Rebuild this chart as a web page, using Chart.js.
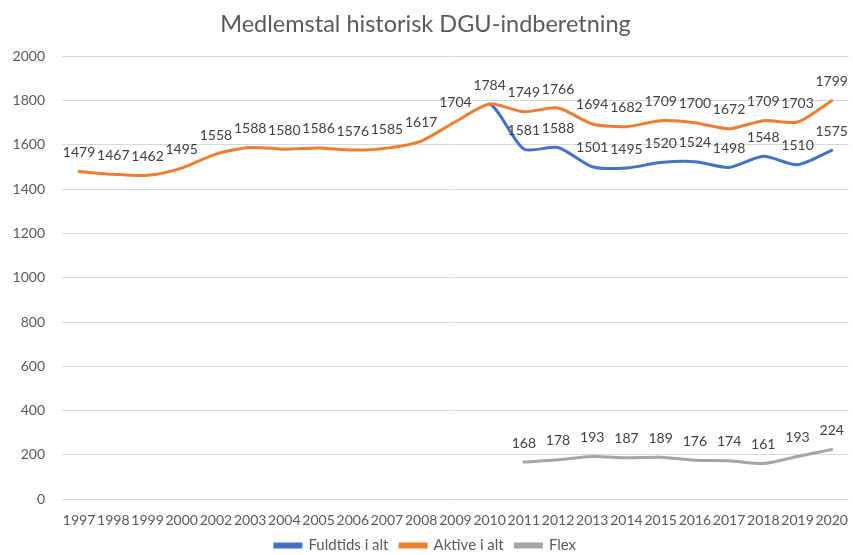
<!DOCTYPE html>
<html>
<head>
<meta charset="utf-8">
<script src="https://cdn.jsdelivr.net/npm/chart.js@4"></script>
<style>
    html, body { margin: 0; padding: 0; background: #fff; }
    #wrap { width: 853px; height: 555px; }
</style>
</head>
<body>
<div id="wrap"><canvas id="myChart" width="853" height="555"></canvas></div>
<script>
const years = ["1997", "1998", "1999", "2000", "2002", "2003", "2004", "2005", "2006", "2007", "2008",
    "2009", "2010", "2011", "2012", "2013", "2014", "2015", "2016", "2017", "2018", "2019", "2020"];

const fuldtids = [1479, 1467, 1462, 1495, 1558, 1588, 1580, 1586, 1576, 1585, 1617,
    1704, 1784, 1581, 1588, 1501, 1495, 1520, 1524, 1498, 1548, 1510, 1575];

const aktive = [1479, 1467, 1462, 1495, 1558, 1588, 1580, 1586, 1576, 1585, 1617,
    1704, 1784, 1749, 1766, 1694, 1682, 1709, 1700, 1672, 1709, 1703, 1799];

const flex = [null, null, null, null, null, null, null, null, null, null, null,
    null, null, 168, 178, 193, 187, 189, 176, 174, 161, 193, 224];

const yTicks = [0, 200, 400, 600, 800, 1000, 1200, 1400, 1600, 1800, 2000];

const fontFamily = "Lato, 'Open Sans', sans-serif";

// blue only shows where it leaves the orange line
const sameAsAktive = (i) => aktive[i] === fuldtids[i];

// draws the value above every point (blue is skipped where it sits under orange)
const valueLabels = {
    id: "valueLabels",
    afterDatasetsDraw: (chart) => {
        const ctx = chart.ctx;
        ctx.save();
        ctx.font = "14px " + fontFamily;
        ctx.fillStyle = "#404040";
        ctx.textAlign = "center";
        ctx.textBaseline = "middle";
        chart.data.datasets.forEach((ds, d) => {
            const meta = chart.getDatasetMeta(d);
            meta.data.forEach((pt, i) => {
                const v = ds.data[i];
                if (v === null) return;
                if (ds.label === "Fuldtids i alt" && sameAsAktive(i)) return;
                ctx.fillText(String(v), pt.x, pt.y - 19);
            });
        });
        ctx.restore();
    }
};

new Chart("myChart", {
    type: "line",
    data: {
        labels: years,
        datasets: [{
            label: "Fuldtids i alt",
            data: fuldtids,
            borderColor: "#4472C4",
            backgroundColor: "#4472C4",
            order: 2,
            segment: {
                borderColor: (c) => (sameAsAktive(c.p0DataIndex) && sameAsAktive(c.p1DataIndex)) ? "rgba(0,0,0,0)" : undefined
            }
        }, {
            label: "Aktive i alt",
            data: aktive,
            borderColor: "#ED7D31",
            backgroundColor: "#ED7D31",
            order: 1
        }, {
            label: "Flex",
            data: flex,
            borderColor: "#A5A5A5",
            backgroundColor: "#A5A5A5",
            order: 3
        }]
    },
    options: {
        responsive: false,
        animation: false,
        layout: { padding: { top: 6, left: 0, right: 2, bottom: -8 } },
        elements: {
            line: { borderWidth: 3, tension: 0.25, borderCapStyle: "round" },
            point: { radius: 0 }
        },
        scales: {
            x: {
                offset: true,
                grid: { display: false },
                border: { display: false },
                ticks: {
                    color: "#595959",
                    font: { family: fontFamily, size: 14 },
                    maxRotation: 0,
                    autoSkip: false,
                    padding: 5
                }
            },
            y: {
                min: 0,
                max: 2000,
                afterBuildTicks: (axis) => {
                    axis.ticks = yTicks.map(v => ({ value: v }));
                },
                afterFit: (axis) => {
                    axis.width = 62;
                },
                grid: { color: "#D9D9D9", drawTicks: false },
                border: { display: false },
                ticks: {
                    color: "#595959",
                    font: { family: fontFamily, size: 14 },
                    padding: 17,
                    callback: (v) => String(v)
                }
            }
        },
        plugins: {
            title: {
                display: true,
                text: "Medlemstal historisk DGU-indberetning",
                color: "#595959",
                font: { family: fontFamily, size: 23.5, weight: "normal" },
                padding: { top: 4, bottom: 18 }
            },
            legend: {
                display: true,
                position: "bottom",
                labels: {
                    boxWidth: 26,
                    boxHeight: 3,
                    color: "#595959",
                    font: { family: fontFamily, size: 15 },
                    padding: 4,
                    sort: (a, b) => a.datasetIndex - b.datasetIndex,
                    generateLabels: (chart) => {
                        const items = Chart.defaults.plugins.legend.labels.generateLabels(chart);
                        items.forEach((it, i) => {
                            if (i < items.length - 1) it.text = it.text + "  ";
                        });
                        return items;
                    }
                }
            },
            tooltip: { enabled: false }
        }
    },
    plugins: [valueLabels]
});
</script>
</body>
</html>
